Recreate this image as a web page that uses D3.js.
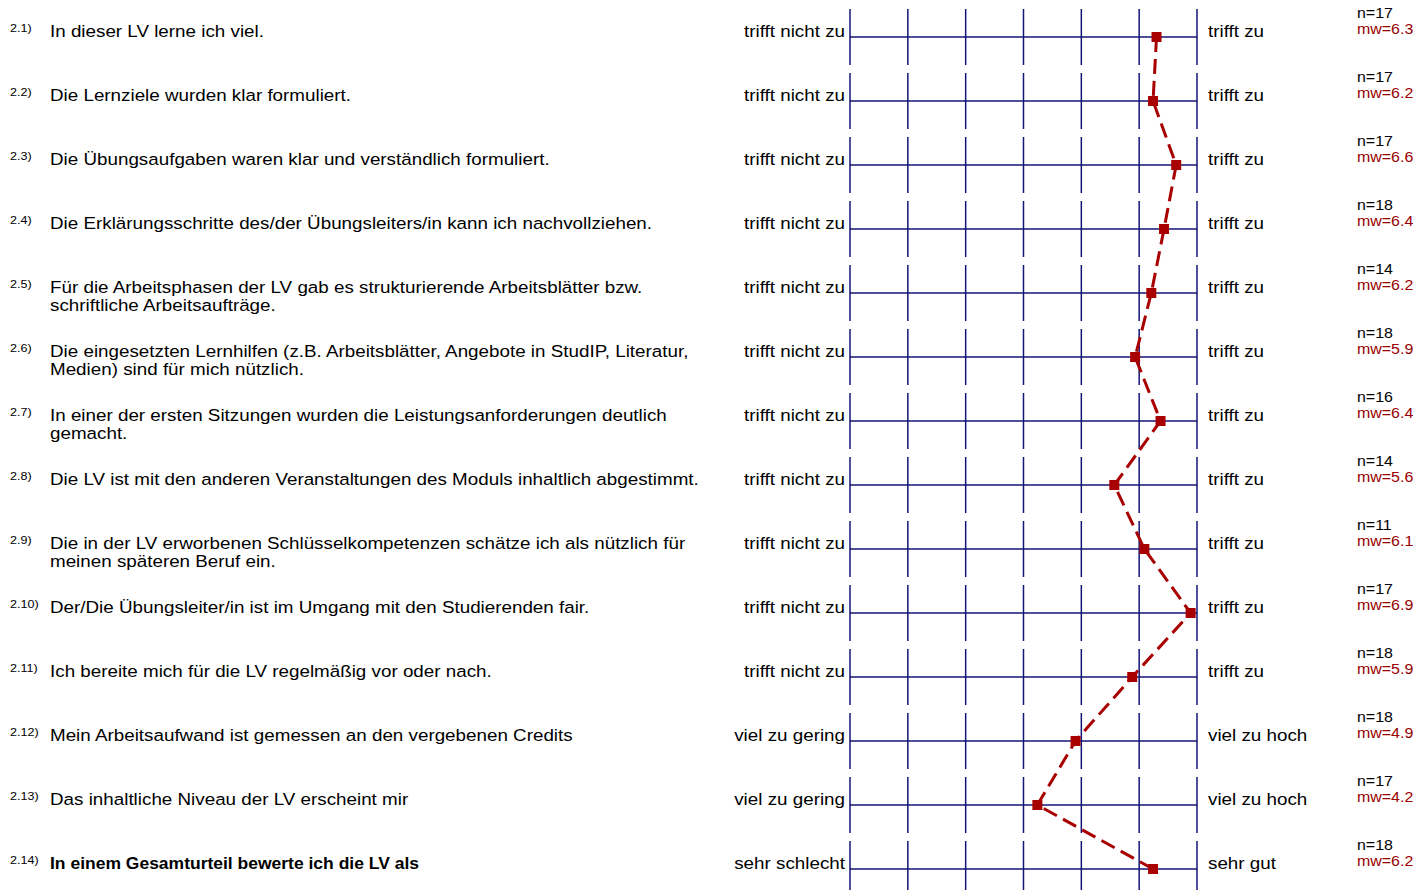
<!DOCTYPE html>
<html>
<head>
<meta charset="utf-8" />
<title>profile</title>
<script src="https://cdn.jsdelivr.net/npm/d3@7"></script>
<style>
  body { margin: 0; background: #fff; }
  text { font-family: "Liberation Sans", Arial, sans-serif; }
</style>
</head>
<body>
<svg width="1417" height="890"></svg>
<script>
  var nums = ["2.1)","2.2)","2.3)","2.4)","2.5)","2.6)","2.7)","2.8)","2.9)","2.10)","2.11)","2.12)","2.13)","2.14)"];
  var questions = [
    ["In dieser LV lerne ich viel."],
    ["Die Lernziele wurden klar formuliert."],
    ["Die Übungsaufgaben waren klar und verständlich formuliert."],
    ["Die Erklärungsschritte des/der Übungsleiters/in kann ich nachvollziehen."],
    ["Für die Arbeitsphasen der LV gab es strukturierende Arbeitsblätter bzw.", "schriftliche Arbeitsaufträge."],
    ["Die eingesetzten Lernhilfen (z.B. Arbeitsblätter, Angebote in StudIP, Literatur,", "Medien) sind für mich nützlich."],
    ["In einer der ersten Sitzungen wurden die Leistungsanforderungen deutlich", "gemacht."],
    ["Die LV ist mit den anderen Veranstaltungen des Moduls inhaltlich abgestimmt."],
    ["Die in der LV erworbenen Schlüsselkompetenzen schätze ich als nützlich für", "meinen späteren Beruf ein."],
    ["Der/Die Übungsleiter/in ist im Umgang mit den Studierenden fair."],
    ["Ich bereite mich für die LV regelmäßig vor oder nach."],
    ["Mein Arbeitsaufwand ist gemessen an den vergebenen Credits"],
    ["Das inhaltliche Niveau der LV erscheint mir"],
    ["In einem Gesamturteil bewerte ich die LV als"]
  ];
  var leftPoles = ["trifft nicht zu","trifft nicht zu","trifft nicht zu","trifft nicht zu","trifft nicht zu","trifft nicht zu","trifft nicht zu","trifft nicht zu","trifft nicht zu","trifft nicht zu","trifft nicht zu","viel zu gering","viel zu gering","sehr schlecht"];
  var rightPoles = ["trifft zu","trifft zu","trifft zu","trifft zu","trifft zu","trifft zu","trifft zu","trifft zu","trifft zu","trifft zu","trifft zu","viel zu hoch","viel zu hoch","sehr gut"];
  var nValues = [17,17,17,18,14,18,16,14,11,17,18,18,17,18];
  var means = [6.30,6.24,6.64,6.43,6.21,5.93,6.37,5.57,6.09,6.89,5.88,4.90,4.24,6.24];
  var scaleSteps = [1,2,3,4,5,6,7];

  var svg = d3.select("svg");
  var navy = "#141474";
  var red = "#a80000";
  var sx = 1.14; // the original type is set a bit wider than Liberation Sans

  var x = d3.scaleLinear().domain([1,7]).range([850,1197]);
  var y = d3.scaleLinear().domain([0,13]).range([37,869]);

  function place(px, py, s) {
    return "translate(" + px + "," + py + ") scale(" + (s || sx) + ",1)";
  }

  var rows = svg.selectAll(".row")
      .data(d3.range(nums.length))
      .enter()
      .append("g")
      .attr("class","row")
      .attr("transform", i => "translate(0," + y(i) + ")");

  // grid
  rows.selectAll(".vline")
      .data(scaleSteps)
      .enter()
      .append("line")
      .attr("x1", d => x(d)).attr("x2", d => x(d))
      .attr("y1", -28).attr("y2", 28)
      .attr("stroke", navy).attr("stroke-width", 1.5);

  rows.append("line")
      .attr("x1", x(1)).attr("x2", x(7))
      .attr("y1", 0).attr("y2", 0)
      .attr("stroke", navy).attr("stroke-width", 1.5);

  // labels
  rows.append("text")
      .attr("transform", place(10, -5))
      .attr("font-size", 11)
      .text(i => nums[i]);

  // last item (overall rating) is bold and set narrower
  rows.append("text")
      .attr("transform", i => place(50, 0, i === 13 ? 1.06 : sx))
      .attr("font-size", 16.5)
      .attr("font-weight", i => i === 13 ? "bold" : "normal")
      .selectAll("tspan")
      .data(i => questions[i])
      .enter()
      .append("tspan")
      .attr("x", 0)
      .attr("dy", (d, j) => j === 0 ? 0 : 18.5)
      .text(d => d);

  rows.append("text")
      .attr("transform", place(845, 0))
      .attr("text-anchor", "end")
      .attr("font-size", 16.5)
      .text(i => leftPoles[i]);

  rows.append("text")
      .attr("transform", place(1208, 0))
      .attr("font-size", 16.5)
      .text(i => rightPoles[i]);

  rows.append("text")
      .attr("transform", place(1357, -19))
      .attr("font-size", 14)
      .text(i => "n=" + nValues[i]);

  rows.append("text")
      .attr("transform", place(1357, -3))
      .attr("font-size", 14)
      .attr("fill", "#9a0000")
      .text(i => "mw=" + d3.format(".1f")(means[i]));

  // profile line
  var line = d3.line()
      .x(d => x(d))
      .y((d, i) => y(i));

  svg.append("path")
      .attr("d", line(means))
      .attr("fill", "none")
      .attr("stroke", red)
      .attr("stroke-width", 3)
      .attr("stroke-dasharray", "15,7");

  svg.selectAll(".marker")
      .data(means)
      .enter()
      .append("rect")
      .attr("x", d => x(d) - 5)
      .attr("y", (d, i) => y(i) - 5)
      .attr("width", 10).attr("height", 10)
      .attr("fill", red);
</script>
</body>
</html>
